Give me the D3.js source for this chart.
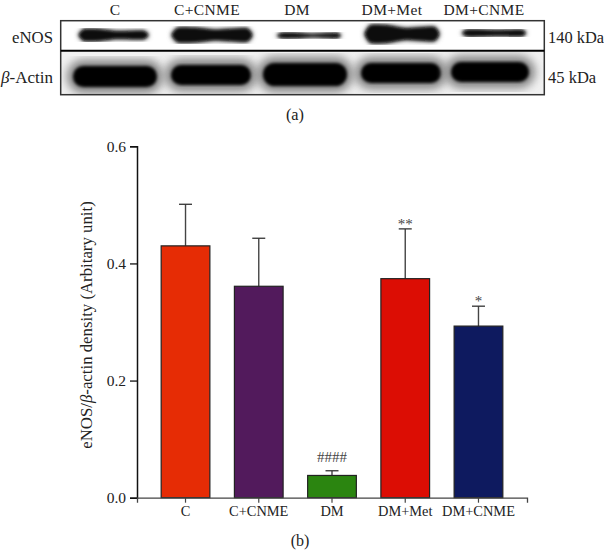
<!DOCTYPE html>
<html>
<head>
<meta charset="utf-8">
<script src="https://cdn.jsdelivr.net/npm/d3@7"></script>
<style>
body { margin: 0; background: #fff; }
text { font-family: "Liberation Serif", serif; fill: #222; }
</style>
</head>
<body>
<div id="chart"></div>
<script>
const groups = ["C", "C+CNME", "DM", "DM+Met", "DM+CNME"];
const means = [0.430, 0.361, 0.038, 0.374, 0.293];
const errorTops = [0.501, 0.443, 0.046, 0.459, 0.327];
const marks = ["", "", "####", "**", "*"];
const barColors = ["#e62c05", "#521a5c", "#2b8510", "#dc0d04", "#0e1a5f"];
const yTicks = [0.0, 0.2, 0.4, 0.6];

// blot band readings, in blot pixels: centre, length, and thickness at left / middle / right
const enosCentre = [113.5, 212, 309, 402, 494];
const enosRow = [35, 35, 35.5, 34, 33];
const enosLength = [69, 80, 63, 74, 63];
const enosLeft = [11, 14, 4.5, 17, 6];
const enosMid = [7, 10, 2.5, 11, 5];
const enosRight = [8, 13, 4.5, 14, 6];
const actinCentre = [115, 211, 305, 401, 490];
const actinRow = [76.5, 75, 74.5, 73, 72];
const actinLength = [84, 80, 84, 80, 78];
const actinThick = [21, 20, 23, 20, 20];

const width = 604, height = 551;
const svg = d3.select("#chart").append("svg")
    .attr("width", width)
    .attr("height", height)
    .style("display", "block");

const panel = {left: 60.7, right: 544.3, top: 20.7, split: 50.7, bottom: 94.7};

const defs = svg.append("defs");
defs.append("filter").attr("id", "blur1").append("feGaussianBlur").attr("stdDeviation", 1.4);
defs.append("filter").attr("id", "blur2").append("feGaussianBlur").attr("stdDeviation", 2.2);
defs.append("filter").attr("id", "blur3").append("feGaussianBlur").attr("stdDeviation", 5);
defs.append("clipPath").attr("id", "enosClip").append("rect")
    .attr("x", panel.left).attr("y", panel.top).attr("width", panel.right - panel.left).attr("height", panel.split - panel.top);
defs.append("clipPath").attr("id", "actinClip").append("rect")
    .attr("x", panel.left).attr("y", panel.split).attr("width", panel.right - panel.left).attr("height", panel.bottom - panel.split);

// panel (a)
const blot = svg.append("g");
blot.append("rect").attr("x", panel.left).attr("y", panel.top).attr("width", panel.right - panel.left).attr("height", panel.split - panel.top).attr("fill", "#fff");
blot.append("rect").attr("x", panel.left).attr("y", panel.split).attr("width", panel.right - panel.left).attr("height", panel.bottom - panel.split).attr("fill", "#f1f1f1");

const bandLine = d3.line().curve(d3.curveCardinalClosed.tension(0.4));

const enosG = blot.append("g").attr("clip-path", "url(#enosClip)");
groups.forEach((g, i) => {
    const x = d3.scaleLinear().domain([-1, 1]).range([enosCentre[i] - enosLength[i] / 2, enosCentre[i] + enosLength[i] / 2]);
    const y = enosRow[i];
    const pts = [
        [x(-1), y], [x(-0.85), y - enosLeft[i] / 2], [x(-0.4), y - enosLeft[i] / 2], [x(0.1), y - enosMid[i] / 2],
        [x(0.85), y - enosRight[i] / 2], [x(1), y], [x(0.85), y + enosRight[i] / 2],
        [x(0.1), y + enosMid[i] / 2], [x(-0.4), y + enosLeft[i] / 2], [x(-0.85), y + enosLeft[i] / 2]
    ];
    enosG.append("path").attr("d", bandLine(pts)).attr("fill", "#777").attr("stroke", "#777").attr("stroke-width", 3).attr("filter", "url(#blur2)");
    enosG.append("path").attr("d", bandLine(pts)).attr("fill", "#0a0a0a").attr("filter", "url(#blur1)");
});

const actinG = blot.append("g").attr("clip-path", "url(#actinClip)");
groups.forEach((g, i) => {
    const rectFor = (pad) => actinG.append("rect")
        .attr("x", actinCentre[i] - actinLength[i] / 2 - pad)
        .attr("y", actinRow[i] - actinThick[i] / 2 - pad)
        .attr("width", actinLength[i] + pad * 2)
        .attr("height", actinThick[i] + pad * 2)
        .attr("rx", actinThick[i] / 2 + pad);
    rectFor(6).attr("fill", "#808080").attr("filter", "url(#blur3)");
    rectFor(0).attr("fill", "#050505").attr("filter", "url(#blur1)");
});

blot.append("rect").attr("x", panel.left).attr("y", panel.top).attr("width", panel.right - panel.left).attr("height", panel.bottom - panel.top)
    .attr("fill", "none").attr("stroke", "#333").attr("stroke-width", 1.5);
blot.append("line").attr("x1", panel.left).attr("x2", panel.right).attr("y1", panel.split).attr("y2", panel.split)
    .attr("stroke", "#000").attr("stroke-width", 2);

const laneLabelX = [115, 207, 297, 392, 484];
groups.forEach((g, i) => {
    blot.append("text").attr("x", laneLabelX[i]).attr("y", 14.5).attr("text-anchor", "middle")
        .attr("font-size", 15.5).attr("letter-spacing", 0.35).text(g);
});
blot.append("text").attr("x", 53).attr("y", 43).attr("text-anchor", "end").attr("font-size", 16.8).text("eNOS");
const actinLabel = blot.append("text").attr("x", 53).attr("y", 83).attr("text-anchor", "end").attr("font-size", 17);
actinLabel.append("tspan").attr("font-style", "italic").text("β");
actinLabel.append("tspan").text("-Actin");
blot.append("text").attr("x", 548).attr("y", 43).attr("font-size", 16.4).text("140 kDa");
blot.append("text").attr("x", 548).attr("y", 83).attr("font-size", 16.5).text("45 kDa");
svg.append("text").attr("x", 295).attr("y", 120).attr("text-anchor", "middle").attr("font-size", 16.3).text("(a)");

// panel (b)
const x = d3.scaleBand().domain(groups).range([137, 527]).paddingInner(0.335).paddingOuter(0.33);
const y = d3.scaleLinear().domain([0, 0.6]).range([497.7, 146.3]);

const yAxis = svg.append("g").attr("transform", "translate(137,0)")
    .call(d3.axisLeft(y).tickValues(yTicks).tickFormat(d3.format(".1f")).tickSize(7).tickPadding(4));
yAxis.selectAll("path").attr("stroke", "#111").attr("stroke-width", 1.5);
yAxis.selectAll("line").attr("stroke", "#111").attr("stroke-width", 1.3);
yAxis.selectAll("text").attr("font-size", 15.5).attr("font-family", "Liberation Serif");

const errG = svg.append("g");
groups.forEach((g, i) => {
    const cx = x(g) + x.bandwidth() / 2;
    errG.append("line").attr("x1", cx).attr("x2", cx).attr("y1", y(means[i])).attr("y2", y(errorTops[i]))
        .attr("stroke", "#444").attr("stroke-width", 1.4);
    errG.append("line").attr("x1", cx - 6.5).attr("x2", cx + 6.5).attr("y1", y(errorTops[i])).attr("y2", y(errorTops[i]))
        .attr("stroke", "#333").attr("stroke-width", 1.3);
});

svg.append("g").selectAll("rect")
    .data(groups)
    .enter()
    .append("rect")
    .attr("x", d => x(d))
    .attr("y", (d, i) => y(means[i]))
    .attr("width", x.bandwidth())
    .attr("height", (d, i) => y(0) - y(means[i]))
    .attr("fill", (d, i) => barColors[i])
    .attr("stroke", "#222")
    .attr("stroke-width", 1.2);

const xAxis = svg.append("g").attr("transform", "translate(0," + y(0) + ")")
    .call(d3.axisBottom(x).tickSizeOuter(0).tickSize(5).tickPadding(3));
xAxis.selectAll("path").attr("stroke", "#444").attr("stroke-width", 1.3);
xAxis.selectAll("line").attr("stroke", "#444").attr("stroke-width", 1.2);
xAxis.selectAll("text").attr("font-size", 14.4).attr("font-family", "Liberation Serif");

svg.append("g").selectAll("text")
    .data(groups)
    .enter()
    .append("text")
    .attr("x", d => x(d) + x.bandwidth() / 2)
    .attr("y", (d, i) => y(errorTops[i]) - (marks[i] === "####" ? 9 : 0))
    .attr("text-anchor", "middle")
    .attr("font-size", 15)
    .style("fill", "#444")
    .text((d, i) => marks[i]);

const yLabel = svg.append("text")
    .attr("transform", "translate(91.5,325) rotate(-90)")
    .attr("text-anchor", "middle")
    .attr("font-size", 16.8);
yLabel.append("tspan").text("eNOS/");
yLabel.append("tspan").attr("font-style", "italic").text("β");
yLabel.append("tspan").text("-actin density (Arbitary unit)");

svg.append("text").attr("x", 300).attr("y", 546).attr("text-anchor", "middle").attr("font-size", 16).text("(b)");
</script>
</body>
</html>
